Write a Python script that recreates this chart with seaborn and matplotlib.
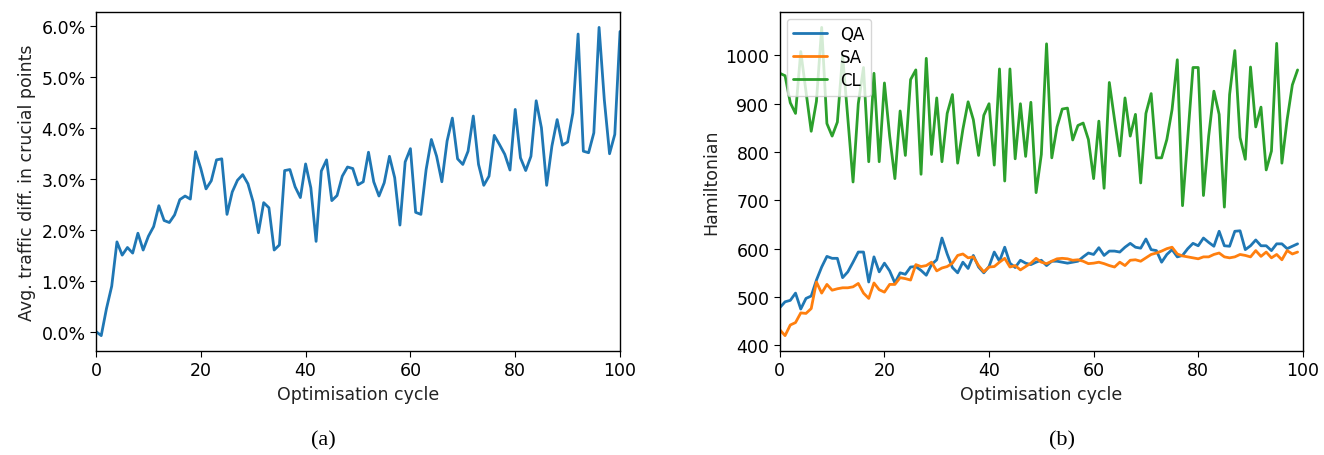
import numpy as np
import pandas as pd
import seaborn as sns
import matplotlib
matplotlib.use("Agg")
import matplotlib.pyplot as plt
import matplotlib.ticker as mticker

# (a) average traffic difference in crucial points, in percent, cycles 0..100
traffic_diff = [
    0.00, -0.08, 0.45, 0.89, 1.76, 1.50, 1.65, 1.54, 1.93, 1.60,
    1.87, 2.06, 2.47, 2.18, 2.14, 2.29, 2.59, 2.66, 2.60, 3.53,
    3.20, 2.80, 2.96, 3.37, 3.39, 2.30, 2.74, 2.97, 3.08, 2.90,
    2.54, 1.94, 2.53, 2.43, 1.60, 1.70, 3.16, 3.18, 2.84, 2.63,
    3.29, 2.82, 1.77, 3.15, 3.37, 2.57, 2.67, 3.05, 3.23, 3.20,
    2.88, 2.94, 3.52, 2.94, 2.66, 2.92, 3.44, 3.02, 2.09, 3.33,
    3.59, 2.34, 2.30, 3.18, 3.77, 3.44, 2.94, 3.74, 4.19, 3.39,
    3.28, 3.54, 4.23, 3.28, 2.87, 3.05, 3.85, 3.67, 3.48, 3.17,
    4.36, 3.41, 3.16, 3.44, 4.53, 4.00, 2.87, 3.64, 4.16, 3.66,
    3.72, 4.29, 5.84, 3.54, 3.51, 3.90, 5.97, 4.55, 3.49, 3.87,
    5.89,
]

# (b) Hamiltonian per cycle, cycles 0..99
qa = [
    478, 490, 493, 508, 475, 497, 502, 535, 562, 584,
    580, 580, 540, 552, 572, 593, 593, 531, 583, 552,
    570, 554, 529, 550, 547, 562, 563, 555, 545, 567,
    577, 622, 589, 561, 550, 572, 559, 586, 562, 550,
    563, 593, 574, 603, 570, 561, 576, 570, 567, 572,
    576, 565, 574, 574, 572, 570, 572, 574, 583, 591,
    588, 602, 586, 595, 595, 593, 603, 611, 603, 601,
    620, 598, 596, 572, 588, 598, 583, 586, 600, 611,
    606, 622, 613, 605, 636, 606, 605, 636, 637, 598,
    606, 618, 606, 606, 596, 610, 610, 600, 605, 610,
]
sa = [
    432, 420, 442, 447, 467, 466, 476, 531, 508, 526,
    514, 517, 519, 519, 521, 528, 508, 497, 529, 515,
    510, 526, 526, 540, 538, 535, 567, 563, 565, 572,
    554, 560, 563, 570, 586, 589, 581, 583, 565, 552,
    562, 563, 572, 580, 562, 565, 556, 563, 570, 580,
    572, 569, 574, 579, 580, 579, 576, 577, 574, 569,
    570, 572, 569, 565, 562, 572, 565, 576, 577, 574,
    581, 588, 591, 595, 600, 603, 589, 585, 583, 581,
    579, 583, 583, 588, 591, 583, 581, 583, 588, 586,
    583, 596, 584, 593, 581, 588, 577, 596, 589, 593,
]
cl = [
    963, 958, 902, 880, 1008, 925, 843, 905, 1058, 859,
    833, 862, 1000, 870, 738, 900, 975, 780, 963, 780,
    943, 833, 745, 885, 793, 950, 970, 754, 994, 795,
    912, 780, 880, 919, 777, 847, 904, 867, 793, 876,
    900, 773, 972, 740, 972, 786, 900, 791, 903, 716,
    795, 1024, 788, 852, 889, 891, 825, 855, 860, 826,
    745, 864, 725, 944, 867, 792, 912, 833, 878, 736,
    880, 921, 788, 788, 826, 888, 991, 689, 830, 975,
    975, 710, 833, 926, 878, 686, 919, 1010, 830, 785,
    976, 852, 893, 763, 802, 1025, 777, 867, 939, 970,
]

df_a = pd.DataFrame({"cycle": np.arange(len(traffic_diff)), "diff": traffic_diff})
df_b = pd.DataFrame({"cycle": np.arange(len(qa)), "QA": qa, "SA": sa, "CL": cl})
df_b = df_b.melt(id_vars="cycle", var_name="method", value_name="H")

sns.set_style("ticks")
plt.rcParams["font.family"] = ["DejaVu Sans"]
plt.rcParams["axes.edgecolor"] = "black"
plt.rcParams["xtick.color"] = "black"
plt.rcParams["ytick.color"] = "black"
plt.rcParams["text.color"] = "black"
plt.rcParams["axes.labelcolor"] = "#222222"

fs = 12.5
fig = plt.figure(figsize=(13.24, 4.56), dpi=100)
ax1 = fig.add_axes([0.0725, 0.228, 0.3958, 0.7435])
ax2 = fig.add_axes([0.589, 0.228, 0.395, 0.7435])

sns.lineplot(data=df_a, x="cycle", y="diff", ax=ax1, color="#1f77b4", linewidth=2.0)
ax1.set_xlim(0, 100)
ax1.yaxis.set_major_formatter(mticker.PercentFormatter(xmax=100, decimals=1))
ax1.set_xlabel("Optimisation cycle", fontsize=fs)
ax1.set_ylabel("Avg. traffic diff. in crucial points", fontsize=fs)

palette = {"QA": "#1f77b4", "SA": "#ff7f0e", "CL": "#2ca02c"}
sns.lineplot(data=df_b, x="cycle", y="H", hue="method", palette=palette,
             ax=ax2, linewidth=2.0)
ax2.set_xlim(0, 100)
ax2.set_xlabel("Optimisation cycle", fontsize=fs)
ax2.set_ylabel("Hamiltonian", fontsize=fs)
ax2.legend(loc="upper left", frameon=True, framealpha=0.8, fontsize=12,
           borderaxespad=0.4, handlelength=2.0, labelspacing=0.3)

for ax in (ax1, ax2):
    ax.tick_params(labelsize=fs, direction="out", length=4)
    for s in ax.spines.values():
        s.set_visible(True)
        s.set_linewidth(1.0)

fig.text(0.244, 0.033, "(a)", ha="center", va="center",
         family=["Liberation Serif"], fontsize=16)
fig.text(0.802, 0.033, "(b)", ha="center", va="center",
         family=["Liberation Serif"], fontsize=16)

fig.savefig("out.png", dpi=100)
